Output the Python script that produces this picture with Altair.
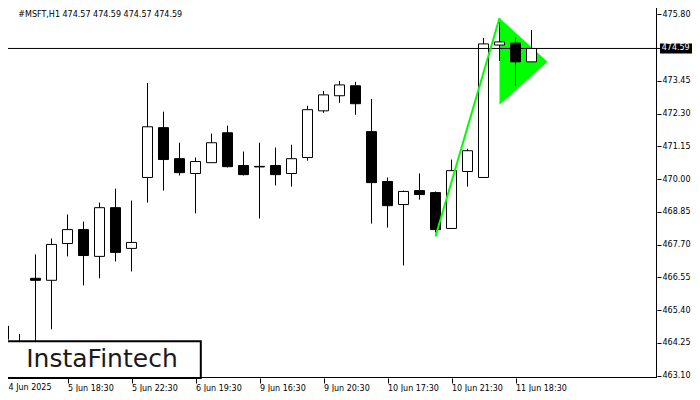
import altair as alt
import pandas as pd

# ---- data ----
candle_idx = list(range(34))
opens = [464.84, 464.25, 466.52, 466.45, 467.74, 468.23, 467.29, 469.00, 467.57, 470.06,
         471.81, 470.72, 470.20, 470.58, 471.63, 470.48, 470.45, 470.48, 470.20, 470.76,
         472.40, 472.93, 473.28, 471.67, 469.92, 469.11, 469.60, 469.53, 468.27, 470.27,
         470.06, 474.71, 474.78, 474.12]
highs = [464.95, 464.56, 467.36, 467.92, 468.76, 468.51, 469.18, 469.67, 469.25, 473.38,
         472.37, 471.28, 470.76, 471.60, 471.88, 470.97, 471.28, 471.11, 471.21, 472.58,
         473.10, 473.45, 473.42, 472.82, 470.06, 469.60, 470.20, 469.57, 470.69, 471.07,
         474.96, 475.52, 474.99, 475.24]
lows = [463.90, 463.70, 463.60, 464.73, 467.29, 466.27, 466.52, 467.11, 466.76, 469.18,
        469.60, 470.13, 468.80, 470.57, 470.41, 470.13, 468.62, 469.78, 469.74, 470.65,
        472.33, 472.68, 472.26, 468.44, 468.30, 466.97, 469.28, 468.13, 468.27, 469.74,
        470.06, 474.15, 473.28, 474.12]
closes = [464.38, 463.95, 466.45, 467.71, 468.23, 467.32, 469.00, 467.43, 467.78, 471.84,
          470.69, 470.23, 470.62, 471.28, 470.44, 470.16, 470.43, 470.16, 470.72, 472.44,
          472.96, 473.31, 472.65, 469.88, 469.07, 469.57, 469.46, 468.23, 470.30, 471.00,
          474.75, 474.82, 474.12, 474.59]

x_tick_idx = [0, 4, 8, 12, 16, 20, 24, 28, 32]
x_tick_labels = ["4 Jun 2025", "5 Jun 18:30", "5 Jun 22:30", "6 Jun 19:30", "9 Jun 16:30",
                 "9 Jun 20:30", "10 Jun 17:30", "10 Jun 21:30", "11 Jun 18:30"]
y_ticks = [475.80, 473.45, 472.30, 471.15, 470.00, 468.85, 467.70, 466.55, 465.40, 464.25, 463.10]

current_price = [474.59]
header_text = ["#MSFT,H1  474.57 474.59 474.57 474.59"]
logo_text = ["InstaFintech"]

pole_x = [27, 31]
pole_y = [467.99, 475.66]
flag_x = [31, 34]
flag_top = [475.66, 474.12]
flag_bottom = [472.61, 474.12]

# ---- tables ----
candles = pd.DataFrame({"i": candle_idx, "o": opens, "h": highs, "l": lows, "c": closes})
pole = pd.DataFrame({"i": pole_x, "p": pole_y})
flag = pd.DataFrame({"i": flag_x, "top": flag_top, "bot": flag_bottom})
price_df = pd.DataFrame({"p": current_price, "t": [f"{v:.2f}" for v in current_price]})
header_df = pd.DataFrame({"t": header_text})
logo_df = pd.DataFrame({"t": logo_text})
first_label_df = pd.DataFrame({"t": x_tick_labels[:1]})
one_df = pd.DataFrame({"k": [0]})

FONT = "DejaVu Sans"
W, H = 649, 370
xs = alt.Scale(domain=[0.28125, 40.84375], nice=False, zero=False, padding=0)
ys = alt.Scale(domain=[463.0197, 476.0107], nice=False, zero=False, padding=0)

label_expr = ("[" + ",".join(f"'{s}'" for s in x_tick_labels) + "][indexof(["
              + ",".join(str(v) for v in x_tick_idx) + "], datum.value)]")

x_axis = alt.Axis(values=x_tick_idx, labelExpr=label_expr, title=None, orient="bottom",
                  tickSize=5, tickColor="black", tickWidth=1, labelAlign="left",
                  labelBaseline="top", labelPadding=1, labelFont=FONT, labelFontSize=8,
                  labelColor="black", domain=False, grid=False, labelOverlap=False,
                  labelFlush=False, labelBound=False)
y_axis = alt.Axis(values=y_ticks, format=".2f", title=None, orient="right",
                  tickSize=4, tickColor="black", tickWidth=1, labelPadding=1,
                  labelFont=FONT, labelFontSize=8, labelColor="black", domain=False,
                  grid=False, labelOverlap=False, labelFlush=False, labelBound=False)

X = lambda f: alt.X(f, type="quantitative", scale=xs, axis=x_axis)
Y = lambda f: alt.Y(f, type="quantitative", scale=ys, axis=y_axis)

flag_layer = alt.Chart(flag).mark_area(color="#00FF00", opacity=1, clip=True).encode(
    x=X("i"), y=Y("top"), y2="bot")

wicks = alt.Chart(candles).mark_rule(color="black", strokeWidth=1, clip=True).encode(
    x=X("i"), y=Y("l"), y2="h")

bodies = alt.Chart(candles).mark_bar(size=10, stroke="black", strokeWidth=1, clip=True).encode(
    x=X("i"), y=Y("o"), y2="c",
    fill=alt.condition("datum.c >= datum.o", alt.value("white"), alt.value("black")))

price_rule = alt.Chart(price_df).mark_rule(color="black", strokeWidth=1).encode(
    x=alt.value(0), x2=alt.value(W + 3), y=Y("p"))

pole_layer = alt.Chart(pole).mark_line(color="#00FF00", strokeWidth=2, clip=True).encode(
    x=X("i"), y=Y("p"))

frame_right = alt.Chart(one_df).mark_rule(color="black", strokeWidth=1).encode(
    x=alt.value(W - 0.5), y=alt.value(0), y2=alt.value(H))
frame_bottom = alt.Chart(one_df).mark_rule(color="black", strokeWidth=1).encode(
    x=alt.value(0), x2=alt.value(W), y=alt.value(H - 0.5))

price_box = alt.Chart(price_df).mark_point(
    shape="M-1,-0.303L1,-0.303L1,0.303L-1,0.303Z", size=1089, filled=True,
    fill="black", opacity=1, strokeWidth=0).encode(
    x=alt.value(W + 19.5), y=Y("p"))

price_text = alt.Chart(price_df).mark_text(
    align="left", baseline="middle", font=FONT, fontSize=8, color="white").encode(
    x=alt.value(W + 4.7), y=Y("p"), text="t:N")

first_label = alt.Chart(first_label_df).mark_text(
    align="left", baseline="top", font=FONT, fontSize=8, color="black").encode(
    x=alt.value(0.5), y=alt.value(H + 6), text="t:N")

header = alt.Chart(header_df).mark_text(
    align="left", baseline="alphabetic", font=FONT, fontSize=8, color="black").encode(
    x=alt.value(10.3), y=alt.value(8.7), text="t:N")

logo_box = alt.Chart(logo_df).mark_rect(fill="white", stroke="black", strokeWidth=2).encode(
    x=alt.value(-8), x2=alt.value(192.8), y=alt.value(333.3), y2=alt.value(H))

logo = alt.Chart(logo_df).mark_text(
    align="center", baseline="alphabetic", font=FONT, fontSize=25, color="#1a1a1a").encode(
    x=alt.value(94), y=alt.value(358.7), text="t:N")

chart = alt.layer(
    flag_layer, wicks, bodies, price_rule, pole_layer, frame_right, frame_bottom,
    price_box, price_text, first_label, header, logo_box, logo
).properties(
    width=W, height=H,
    autosize=alt.AutoSizeParams(type="none"),
    padding={"left": 0, "top": 0, "right": 35, "bottom": 14},
    background="white",
).configure_view(stroke=None)

chart.save("out.html", embed_options={"renderer": "svg", "actions": False})
